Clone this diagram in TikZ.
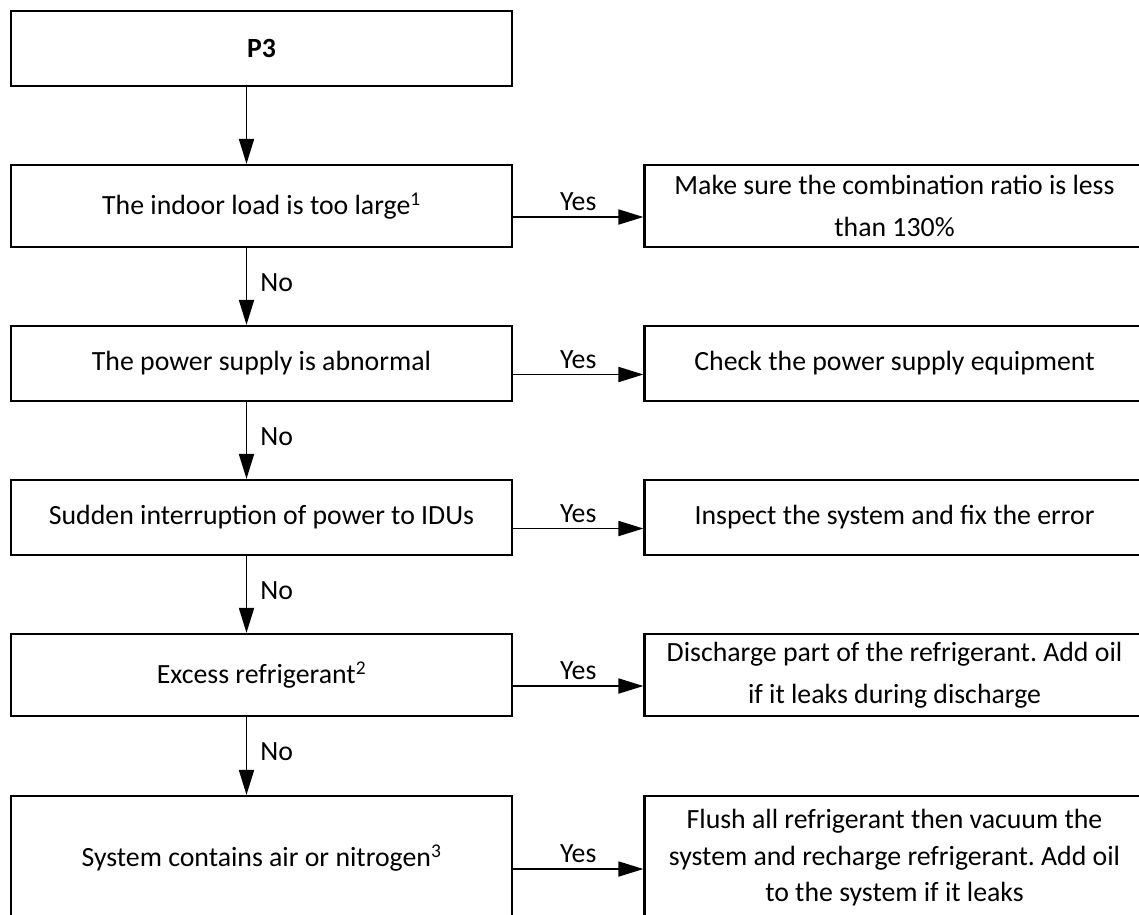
\documentclass[tikz,border=0pt]{standalone}
\usepackage{fontspec}
\setmainfont{Carlito}
\usetikzlibrary{arrows.meta,calc}
\frenchspacing
\begin{document}
\begin{tikzpicture}[x=1pt,y=-1pt,
  box/.style={draw, line width=2.2pt, inner sep=0pt, align=center, font=\fontsize{27.8}{42}\selectfont},
  lbox/.style={box, minimum width=501pt},
  rbox/.style={box, minimum width=500pt},
  arr/.style={line width=1.8pt, -{Triangle[length=25pt,width=15pt]}},
  lab/.style={font=\fontsize{27.8}{32}\selectfont, inner sep=0pt}]
\useasboundingbox (0,0) rectangle (1139,914);
\coordinate (ax) at (246.5,0);
% left column
\node[lbox, minimum height=75pt] (p3) at (261.5,48.5) {\textbf{P3}};
\node[lbox, minimum height=82pt] (b1) at (261.5,206) {The indoor load is too large\textsuperscript{1}};
\node[lbox, minimum height=75pt] (b2) at (261.5,363.5) {The power supply is abnormal};
\node[lbox, minimum height=75pt] (b3) at (261.5,517.5) {Sudden interruption of power to IDUs};
\node[lbox, minimum height=82pt] (b4) at (261.5,675) {Excess refrigerant\textsuperscript{2}};
\node[lbox, minimum height=124pt] (b5) at (261.5,858) {System contains air or nitrogen\textsuperscript{3}};
% right column
\node[rbox, minimum height=82pt] (r1) at (894.5,206) {Make sure the combination ratio is less\\than 130\%};
\node[rbox, minimum height=75pt] (r2) at (894.5,363.5) {Check the power supply equipment};
\node[rbox, minimum height=75pt] (r3) at (894.5,517.5) {Inspect the system and fix the error};
\node[rbox, minimum height=82pt] (r4) at (894.5,675) {Discharge part of the refrigerant. Add oil\\if it leaks during discharge};
\node[rbox, minimum height=124pt, font=\fontsize{27.8}{36.5}\selectfont] (r5) at (894.5,858) {Flush all refrigerant then vacuum the\\system and recharge refrigerant. Add oil\\to the system if it leaks};
% vertical connectors
\draw[arr] (p3.south -| ax) -- (b1.north -| ax);
\foreach \a/\b in {b1/b2,b2/b3,b3/b4,b4/b5}{
  \draw[arr] (\a.south -| ax) -- node[lab, midway, anchor=west, xshift=13pt, yshift=4pt]{No} (\b.north -| ax);
}
% horizontal connectors
\foreach \a/\b in {b1/r1,b2/r2,b3/r3,b4/r4,b5/r5}{
  \draw[arr] ([yshift=-11pt]\a.east) -- node[lab, midway, above=5pt]{Yes} ([yshift=-11pt]\a.east -| \b.west);
}
\end{tikzpicture}
\end{document}
